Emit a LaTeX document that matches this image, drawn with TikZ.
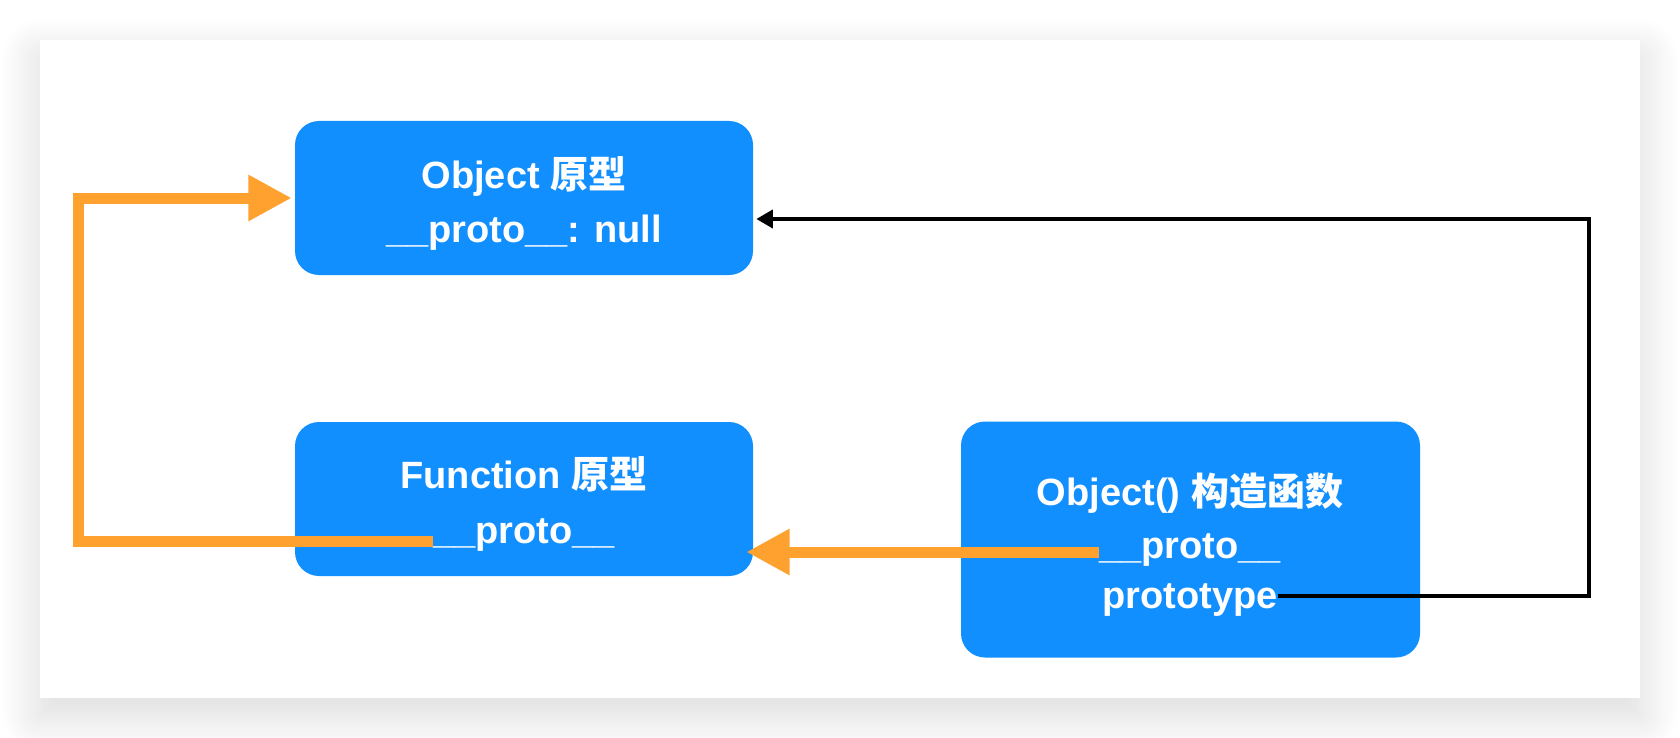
\documentclass[tikz,border=0pt]{standalone}
\usepackage{fontspec}
\setmainfont{Liberation Sans}
\newfontfamily\cjk{Noto Sans CJK SC}
\usetikzlibrary{arrows.meta,shadows.blur}
\definecolor{boxblue}{RGB}{18,143,255}
\definecolor{linkorange}{RGB}{255,161,47}

\begin{document}
\begin{tikzpicture}[x=0.75pt, y=-0.75pt,
  protobox/.style={fill=boxblue, rounded corners=18pt, inner sep=0pt},
  boxtext/.style={text=white, anchor=base, inner sep=0pt, font=\fontsize{28.5}{34}\selectfont\bfseries},
  orangelink/.style={draw=linkorange, line width=8.25pt, -{Triangle[length=32.5pt,width=32.5pt]}},
  blacklink/.style={draw=black, line width=3pt, -{Triangle[length=12.5pt,width=13.5pt]}}]

\useasboundingbox (0,0) rectangle (1680,738);

% Create panel with shadow
\fill[white, blur shadow={shadow xshift=0pt, shadow yshift=-13pt, shadow blur radius=30pt, shadow blur steps=20, shadow opacity=15}] (40,40) rectangle (1640,698);

% Create boxes
\node[protobox, minimum width=343.5pt, minimum height=115.5pt] (objbox) at (524,198) {};
\node[protobox, minimum width=343.5pt, minimum height=115.5pt] (funbox) at (524,499) {};
\node[protobox, minimum width=344.25pt, minimum height=177pt] (ctorbox) at (1190.5,539.5) {};

% Label boxes
\node[boxtext] (objname) at (524,188) {Object {\cjk 原型}};
\node[boxtext] (objnull) at (524,242) {\_\_proto\_\_: null};
\node[boxtext] (funname) at (524,488) {Function {\cjk 原型}};
\node[boxtext] (funproto) at (524,543) {\_\_proto\_\_};
\node[boxtext] (ctorname) at (1190,505) {Object() {\cjk 构造函数}};
\node[boxtext] (ctorproto) at (1190,558) {\_\_proto\_\_};
\node[boxtext] (ctortype) at (1190,608) {prototype};

% Bends of the links
\coordinate (leftbend) at (78,198);
\coordinate (rightbend) at (1589,219);

% Function prototype points to Object prototype
\draw[orangelink] ([yshift=1.5pt]funproto.base west) -| (leftbend) -- ([xshift=-2.25pt]objbox.west);

% Object() points to Function prototype
\draw[orangelink] ([yshift=4.5pt]ctorproto.base west) -- ([xshift=-5.25pt,yshift=-39.75pt]funbox.east);

% prototype of Object()
\draw[blacklink] ([yshift=2.5pt]ctortype.east) -| (rightbend) -- ([xshift=2.25pt,yshift=-15.75pt]objbox.east);

\end{tikzpicture}
\end{document}
